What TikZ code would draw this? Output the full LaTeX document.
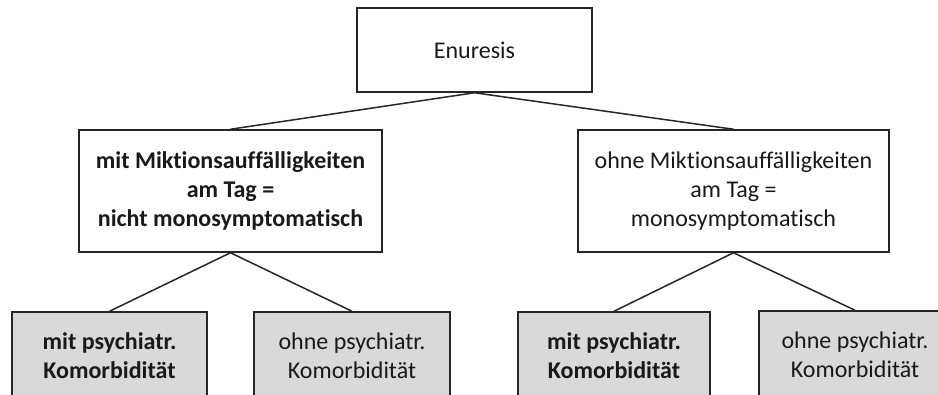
\documentclass[tikz,border=0pt]{standalone}
\usepackage{fontspec}
\setmainfont{Carlito}[Ligatures={NoCommon,TeX}]
\begin{document}
\begin{tikzpicture}[x=1pt,y=-1pt,
  box/.style={draw=black!85, line width=1.5pt, align=center, inner sep=0pt,
    font=\fontsize{24}{29}\selectfont, text=black!90},
  leaf/.style={box, fill=black!15, minimum width=193pt, minimum height=88pt},
  mid/.style={box, minimum width=303pt, minimum height=122pt},
  conn/.style={line width=1.5pt, draw=black!85}]
\useasboundingbox (0,0) rectangle (938,394);
\clip (0,0) rectangle (938,394);
\node[box, minimum width=235pt, minimum height=84pt] (root) at (474.5,50) {Enuresis};
\node[mid] (L) at (230.5,191) {\bfseries mit Miktionsauffälligkeiten\\\bfseries am Tag =\\\bfseries nicht monosymptomatisch};
\node[mid, minimum width=311pt] (R) at (733.5,191) {ohne Miktionsauffälligkeiten\\am Tag =\\monosymptomatisch};
\node[leaf, minimum width=195pt] (LL) at (109.5,356) {\bfseries mit psychiatr.\\\bfseries Komorbidität};
\node[leaf, minimum width=196pt] (LR) at (352,356) {ohne psychiatr.\\Komorbidität};
\node[leaf, minimum width=192pt] (RL) at (614,356) {\bfseries mit psychiatr.\\\bfseries Komorbidität};
\node[leaf, minimum width=192pt] (RR) at (855,355) {ohne psychiatr.\\Komorbidität};
\draw[conn] (root.south) -- (L.north);
\draw[conn] (root.south) -- (R.north);
\draw[conn] (L.south) -- (LL.north);
\draw[conn] (L.south) -- (LR.north);
\draw[conn] (R.south) -- (RL.north);
\draw[conn] (R.south) -- (RR.north);
\end{tikzpicture}
\end{document}
